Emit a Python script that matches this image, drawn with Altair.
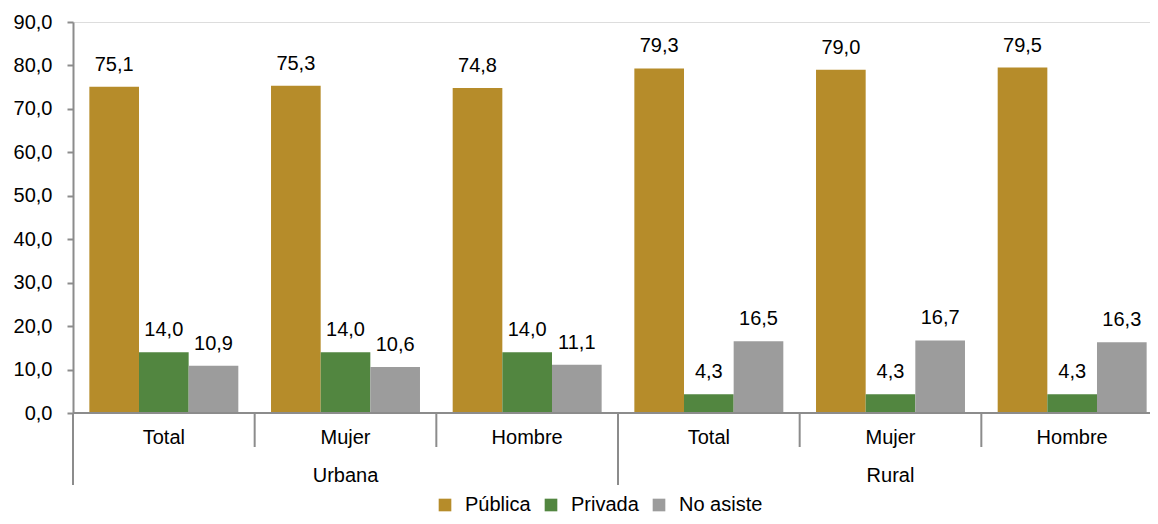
import altair as alt
import pandas as pd

# ---- data ----
areas = ["Urbana", "Urbana", "Urbana", "Rural", "Rural", "Rural"]
groups = ["Total", "Mujer", "Hombre", "Total", "Mujer", "Hombre"]
series = ["Pública", "Privada", "No asiste"]
publica = [75.1, 75.3, 74.8, 79.3, 79.0, 79.5]
privada = [14.0, 14.0, 14.0, 4.3, 4.3, 4.3]
no_asiste = [10.9, 10.6, 11.1, 16.5, 16.7, 16.3]
colors = ["#B68C2A", "#528640", "#9C9C9C"]
y_ticks = [0, 10, 20, 30, 40, 50, 60, 70, 80, 90]

FONT = "Liberation Sans"
FS = 20
GRAY = "#8C8C8C"
W, H = 1077, 391
XR = 1090  # x range in pixels (panel continues past the page edge)

keys = [f"{a} {g}" for a, g in zip(areas, groups)]
rows = []
for i, key in enumerate(keys):
    for s, vals in zip(series, [publica, privada, no_asiste]):
        v = vals[i]
        rows.append({"key": key, "serie": s, "valor": v,
                     "etiqueta": f"{v:.1f}".replace(".", ",")})
df = pd.DataFrame(rows)

gdf = pd.DataFrame({"key": keys, "group": groups})

# area spans (in category units)
area_rows = []
for a in dict.fromkeys(areas):
    idx = [i for i, x in enumerate(areas) if x == a]
    area_rows.append({"area": a, "pos": (min(idx) + max(idx) + 1) / 2})
adf = pd.DataFrame(area_rows)

n = len(keys)
outer = [0] + [i for i in range(1, n) if areas[i] != areas[i - 1]] + [n]
inner = [i for i in range(1, n) if areas[i] == areas[i - 1]]
odf = pd.DataFrame({"pos": outer})
idf = pd.DataFrame({"pos": inner})
bdf = pd.DataFrame({"start": [0], "end": [n]})

band = alt.Scale(domain=keys, range=[0, XR], paddingInner=0.18, paddingOuter=0.09)
qscale = alt.Scale(domain=[0, n], range=[0, XR], nice=False, zero=False)
yscale = alt.Scale(domain=[0, 90], nice=False)

xk = alt.X("key:N", sort=keys, scale=band, axis=None)
xo = alt.XOffset("serie:N", sort=series,
                 scale=alt.Scale(domain=series, paddingInner=0, paddingOuter=0))

bars = alt.Chart(df).mark_bar().encode(
    x=xk, xOffset=xo,
    y=alt.Y("valor:Q", scale=yscale, title=None,
            axis=alt.Axis(values=y_ticks, grid=False,
                          labelExpr="replace(format(datum.value, '.1f'), '.', ',')",
                          domainColor=GRAY, domainWidth=2, tickColor=GRAY,
                          tickWidth=2, tickSize=6, labelPadding=15,
                          labelFontSize=FS, labelColor="#000000", labelFont=FONT)),
    color=alt.Color("serie:N", sort=series,
                    scale=alt.Scale(domain=series, range=colors),
                    legend=alt.Legend(title=None, orient="none", direction="horizontal",
                                      legendX=362, legendY=473,
                                      symbolType="square", symbolSize=160,
                                      symbolStrokeWidth=0, symbolOpacity=1,
                                      labelFontSize=FS, labelFont=FONT,
                                      labelColor="#000000", labelOffset=10,
                                      columnPadding=10)),
)

values = alt.Chart(df).mark_text(dy=-16, baseline="alphabetic", fontSize=FS,
                                 font=FONT, color="#000000").encode(
    x=xk, xOffset=xo, y=alt.Y("valor:Q", scale=yscale), text="etiqueta:N")

cat_labels = alt.Chart(gdf).mark_text(baseline="alphabetic", fontSize=FS,
                                      font=FONT, color="#000000").encode(
    x=xk, y=alt.value(H + 31), text="group:N")

area_labels = alt.Chart(adf).mark_text(baseline="alphabetic", fontSize=FS,
                                       font=FONT, color="#000000").encode(
    x=alt.X("pos:Q", scale=qscale, axis=None), y=alt.value(H + 69), text="area:N")

baseline = alt.Chart(bdf).mark_rule(color=GRAY, strokeWidth=2).encode(
    x=alt.X("start:Q", scale=qscale, axis=None), x2="end:Q", y=alt.value(H))

sep_inner = alt.Chart(idf).mark_rule(color=GRAY, strokeWidth=2).encode(
    x=alt.X("pos:Q", scale=qscale, axis=None), y=alt.value(H), y2=alt.value(H + 34))

sep_outer = alt.Chart(odf).mark_rule(color=GRAY, strokeWidth=2).encode(
    x=alt.X("pos:Q", scale=qscale, axis=None), y=alt.value(H), y2=alt.value(H + 72))

chart = alt.layer(
    bars, values, cat_labels, area_labels, baseline, sep_inner, sep_outer
).resolve_scale(x="independent").properties(
    width=W, height=H,
    autosize=alt.AutoSizeParams(type="none"),
    padding={"left": 65, "top": 14, "right": 0, "bottom": 103},
).configure_view(stroke=None).configure(font=FONT)

chart.save("out.html", embed_options={"renderer": "svg", "actions": False})
